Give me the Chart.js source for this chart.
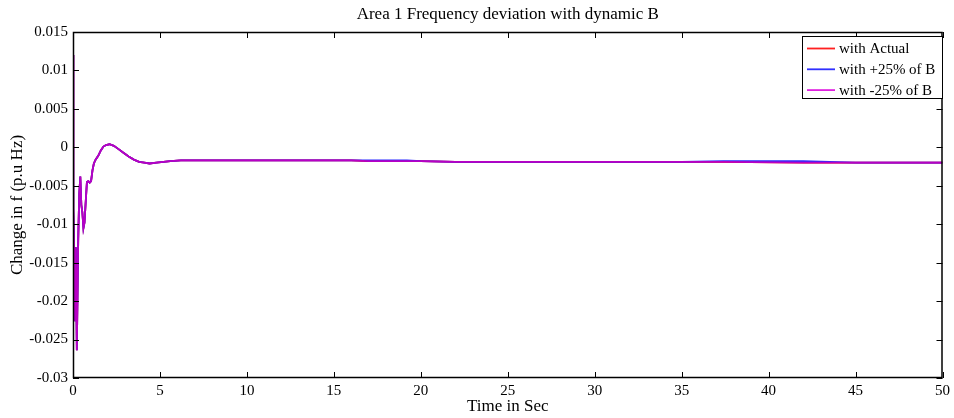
<!DOCTYPE html>
<html>
<head>
<meta charset="utf-8">
<script src="https://cdn.jsdelivr.net/npm/chart.js@4.4.1/dist/chart.umd.min.js"></script>
<style>
  html, body { margin: 0; padding: 0; background: #ffffff; }
  #wrap { width: 954px; height: 418px; }
</style>
</head>
<body>
<div id="wrap"><canvas id="c" width="954" height="418"></canvas></div>
<script>
// Simulation time (s)
const time = [
  0, 0.02, 0.06, 0.12, 0.16, 0.22, 0.3, 0.36, 0.42, 0.48, 0.54, 0.6, 0.66, 0.72,
  0.8, 0.88, 0.96, 1.04, 1.12, 1.2, 1.3, 1.45, 1.6, 1.75, 1.9, 2.1, 2.35, 2.6,
  2.9, 3.2, 3.5, 3.8, 4.1, 4.4, 4.8, 5.2, 5.6, 6.2, 7, 8, 10, 12, 14, 16, 17,
  19.2, 20, 22, 25, 30, 35, 37.4, 42, 45, 50
];

// Frequency deviation, nominal bias factor
const withActual = [
  0.012, -0.008, -0.012, -0.0225, -0.013, -0.0264, -0.012, -0.006, -0.0038, -0.0075, -0.0085, -0.0105, -0.0098, -0.0075,
  -0.0045, -0.0044, -0.0046, -0.0044, -0.003, -0.0021, -0.0016, -0.0011, -0.0004, 0.0001, 0.0003, 0.0004, 0.0002, -0.0002,
  -0.0007, -0.0012, -0.0016, -0.0019, -0.002, -0.0021, -0.002, -0.0019, -0.0018, -0.0017, -0.0017, -0.0017, -0.0017, -0.0017, -0.0017, -0.0017, -0.0018,
  -0.0018, -0.0018, -0.0019, -0.0019, -0.0019, -0.0019, -0.0019, -0.002, -0.002, -0.002
];

// Frequency deviation, bias factor +25%
const withPlus25 = [
  0.012, -0.008, -0.012, -0.0225, -0.013, -0.0264, -0.012, -0.006, -0.0038, -0.0075, -0.0085, -0.0105, -0.0098, -0.0075,
  -0.0045, -0.0044, -0.0046, -0.0044, -0.003, -0.0021, -0.0016, -0.0011, -0.0004, 0.0001, 0.0003, 0.0004, 0.0002, -0.0002,
  -0.0007, -0.0012, -0.0016, -0.0019, -0.002, -0.0021, -0.002, -0.0019, -0.0018, -0.0017, -0.0017, -0.0017, -0.0017, -0.0017, -0.0017, -0.0017, -0.0017,
  -0.0017, -0.0018, -0.0019, -0.0019, -0.0019, -0.0019, -0.0018, -0.0018, -0.002, -0.002
];

// Frequency deviation, bias factor -25%
const withMinus25 = [
  0.012, -0.008, -0.012, -0.0225, -0.013, -0.0264, -0.012, -0.006, -0.0038, -0.0075, -0.0085, -0.0105, -0.0098, -0.0075,
  -0.0045, -0.0044, -0.0046, -0.0044, -0.003, -0.0021, -0.0016, -0.0011, -0.0004, 0.0001, 0.0003, 0.0004, 0.0002, -0.0002,
  -0.0007, -0.0012, -0.0016, -0.0019, -0.002, -0.0021, -0.002, -0.0019, -0.0018, -0.0017, -0.0017, -0.0017, -0.0017, -0.0017, -0.0017, -0.0017, -0.0018,
  -0.0018, -0.0018, -0.0019, -0.0019, -0.0019, -0.0019, -0.0019, -0.002, -0.002, -0.002
];

const seriesNames = ['with Actual', 'with +25% of B', 'with -25% of B'];
const xTicks = [0, 5, 10, 15, 20, 25, 30, 35, 40, 45, 50];
const yTicks = [-0.03, -0.025, -0.02, -0.015, -0.01, -0.005, 0, 0.005, 0.01, 0.015];
const chartTitle = 'Area 1 Frequency deviation with dynamic B';
const xTitle = 'Time in Sec';
const yTitle = 'Change in f (p.u Hz)';

const SERIF = '"Liberation Serif", "DejaVu Serif", serif';
const colors = ['#ff0000', '#2a2aff', '#b800c4'];
const swatchColors = ['#ff2020', '#3030ff', '#e020e0'];

const toPoints = vals => vals.map((v, i) => ({ x: time[i], y: v }));

// Frame, inward ticks on all four sides, titles and boxed legend
const framePlugin = {
  id: 'frame',
  afterDraw(chart) {
    const ctx = chart.ctx;
    const { left, right, top, bottom } = chart.chartArea;
    const xs = chart.scales.x, ys = chart.scales.y;
    const tl = 6;
    ctx.save();
    ctx.strokeStyle = '#000';
    ctx.lineWidth = 1;
    ctx.beginPath();
    xTicks.forEach(v => {
      const px = Math.round(xs.getPixelForValue(v)) + 0.5;
      ctx.moveTo(px, bottom); ctx.lineTo(px, bottom - tl);
      ctx.moveTo(px, top); ctx.lineTo(px, top + tl);
    });
    yTicks.forEach(v => {
      const py = Math.round(ys.getPixelForValue(v)) + 0.5;
      ctx.moveTo(left, py); ctx.lineTo(left + tl, py);
      ctx.moveTo(right, py); ctx.lineTo(right - tl, py);
    });
    ctx.stroke();
    ctx.lineWidth = 1.5;
    ctx.strokeRect(left + 0.5, top + 0.5, right - left - 1, bottom - top - 1);

    // titles
    ctx.fillStyle = '#000';
    ctx.textAlign = 'center';
    ctx.textBaseline = 'middle';
    ctx.font = '17px ' + SERIF;
    const cx = (left + right) / 2;
    ctx.fillText(chartTitle, cx, 15);
    ctx.fillText(xTitle, cx, 407);
    ctx.save();
    ctx.translate(18, (top + bottom) / 2);
    ctx.rotate(-Math.PI / 2);
    ctx.fillText(yTitle, 0, 0);
    ctx.restore();

    // legend
    const bx = 802, by = 36, bw = 140, bh = 62;
    ctx.fillStyle = '#fff';
    ctx.fillRect(bx, by, bw, bh);
    ctx.lineWidth = 1;
    ctx.strokeStyle = '#000';
    ctx.strokeRect(bx + 0.5, by + 0.5, bw, bh);
    ctx.font = '15px ' + SERIF;
    ctx.textAlign = 'left';
    seriesNames.forEach((name, i) => {
      const ry = by + 12.5 + i * 20.8;
      ctx.strokeStyle = swatchColors[i];
      ctx.lineWidth = 1.8;
      ctx.beginPath();
      ctx.moveTo(bx + 5, ry); ctx.lineTo(bx + 33, ry);
      ctx.stroke();
      ctx.fillStyle = '#000';
      ctx.fillText(name, bx + 37, ry + 1);
    });
    ctx.restore();
  }
};

new Chart(document.getElementById('c'), {
  type: 'line',
  data: {
    datasets: [
      { label: seriesNames[0], data: toPoints(withActual), borderColor: colors[0], order: 3 },
      { label: seriesNames[1], data: toPoints(withPlus25), borderColor: colors[1], order: 2 },
      { label: seriesNames[2], data: toPoints(withMinus25), borderColor: colors[2], order: 1 }
    ]
  },
  options: {
    responsive: false,
    animation: false,
    devicePixelRatio: 1,
    layout: { padding: { left: 0, right: 10, top: 32, bottom: 0 } },
    elements: {
      line: { borderWidth: 1.8, tension: 0, fill: false },
      point: { radius: 0, hoverRadius: 0 }
    },
    plugins: {
      legend: { display: false },
      title: { display: false },
      tooltip: { enabled: false }
    },
    scales: {
      x: {
        type: 'linear',
        min: 0, max: 50,
        afterBuildTicks: s => { s.ticks = xTicks.map(v => ({ value: v })); },
        afterFit: s => { s.height = 40; },
        grid: { display: false, drawTicks: false },
        border: { display: false },
        ticks: {
          color: '#000', padding: 4, maxRotation: 0,
          font: { family: SERIF, size: 15 },
          callback: v => String(v)
        }
      },
      y: {
        type: 'linear',
        min: -0.03, max: 0.015,
        afterBuildTicks: s => { s.ticks = yTicks.map(v => ({ value: v })); },
        afterFit: s => { s.width = 73; },
        grid: { display: false, drawTicks: false },
        border: { display: false },
        ticks: {
          color: '#000', padding: 5,
          font: { family: SERIF, size: 15 },
          callback: v => String(parseFloat(Number(v).toFixed(4)))
        }
      }
    }
  },
  plugins: [framePlugin]
});
</script>
</body>
</html>
